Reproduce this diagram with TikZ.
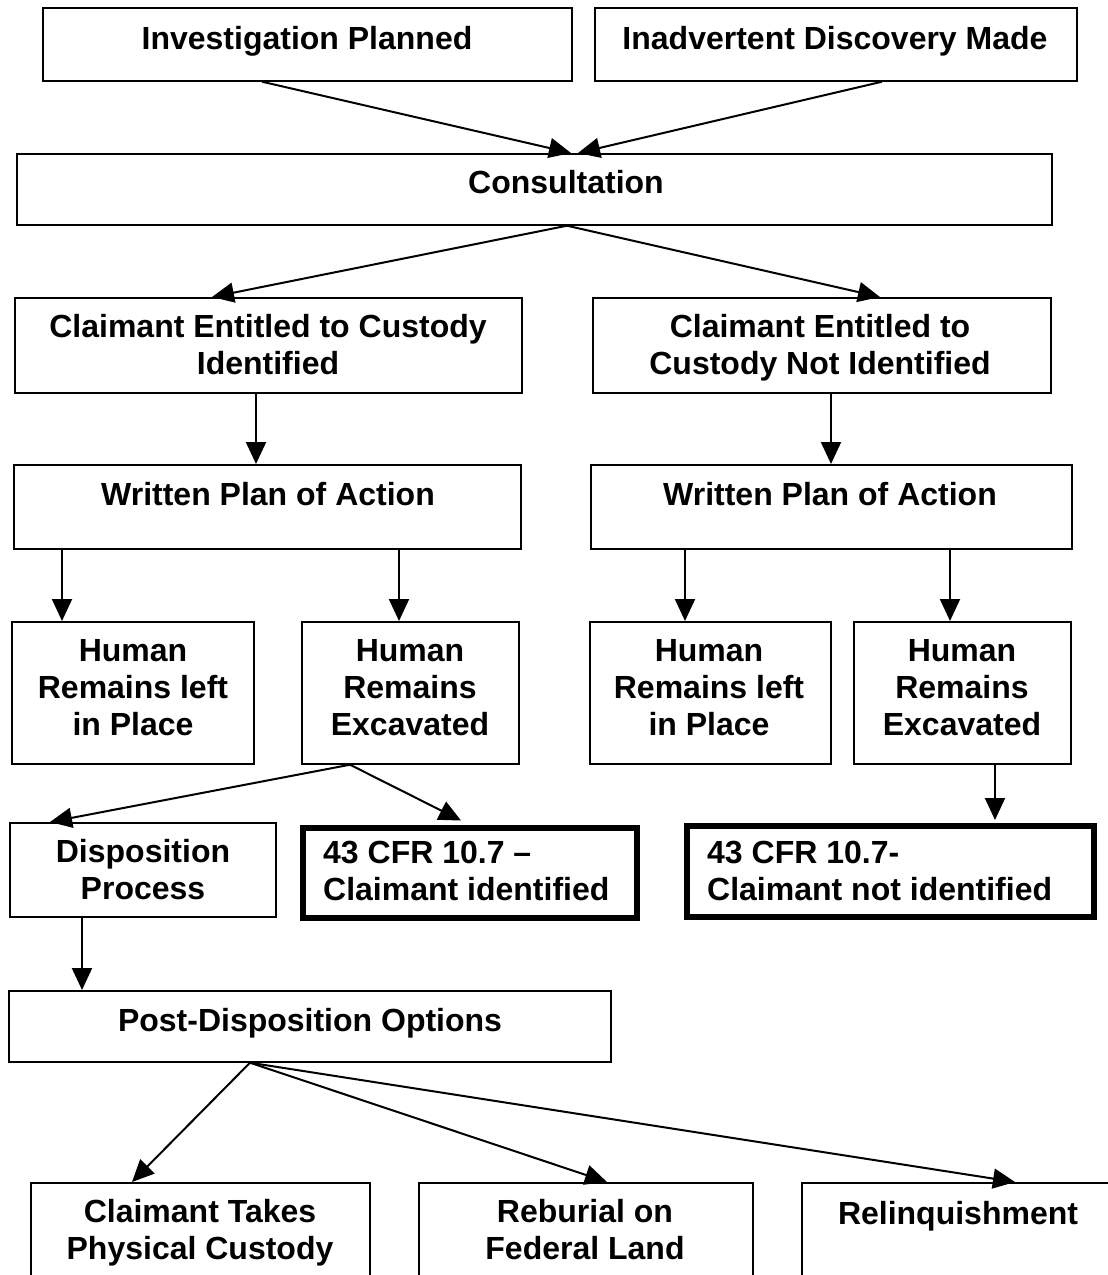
\documentclass[tikz,border=0pt]{standalone}
\usepackage{fontspec}
\setmainfont{Liberation Sans}
\usetikzlibrary{arrows.meta,calc}
\begin{document}
\begin{tikzpicture}[x=1pt,y=-1pt,
  box/.style={draw, line width=1.7pt, inner sep=0pt, anchor=north west},
  thickbox/.style={box, line width=6pt},
  txt/.style={font=\fontsize{32}{37}\selectfont\bfseries, inner sep=0pt, anchor=base},
  ltxt/.style={txt, anchor=base west},
  arr/.style={line width=2pt, -{Triangle[length=22pt,width=20pt]}}]
\useasboundingbox (0,0) rectangle (1108,1275);
\clip (0,0) rectangle (1108,1275);
% boxes
\node[box, minimum width=529pt, minimum height=73pt] (ip)  at (42,7) {};
\node[box, minimum width=482pt, minimum height=73pt] (idm) at (594,7) {};
\node[box, minimum width=1035pt, minimum height=71pt] (con) at (16,153) {};
\node[box, minimum width=507pt, minimum height=95pt] (ceci) at (14,297) {};
\node[box, minimum width=458pt, minimum height=95pt] (cecn) at (592,297) {};
\node[box, minimum width=507pt, minimum height=84pt] (wpl) at (13,464) {};
\node[box, minimum width=481pt, minimum height=84pt] (wpr) at (590,464) {};
\node[box, minimum width=242pt, minimum height=142pt] (hll) at (11,621) {};
\node[box, minimum width=217pt, minimum height=142pt] (hel) at (301,621) {};
\node[box, minimum width=241pt, minimum height=142pt] (hlr) at (589,621) {};
\node[box, minimum width=217pt, minimum height=142pt] (her) at (853,621) {};
\node[box, minimum width=266pt, minimum height=94pt] (dp) at (9,822) {};
\node[thickbox, minimum width=334pt, minimum height=90pt] (cfra) at (300,825) {};
\node[thickbox, minimum width=407pt, minimum height=91pt] (cfrb) at (684,823) {};
\node[box, minimum width=602pt, minimum height=71pt] (pdo) at (8,990) {};
\node[box, minimum width=339pt, minimum height=130pt] (ctp) at (30,1182) {};
\node[box, minimum width=334pt, minimum height=130pt] (rfl) at (418,1182) {};
\node[box, minimum width=330pt, minimum height=130pt] (rel) at (801,1182) {};
% texts
\node[txt] (ipt) at (307,49) {Investigation Planned};
\node[txt] (idmt) at (835,49) {Inadvertent Discovery Made};
\node[txt] (cont) at (566,193) {Consultation};
\node[txt] (cecit) at (268,337) {\begin{tabular}[t]{@{}c@{}}Claimant Entitled to Custody\\Identified\end{tabular}};
\node[txt] (cecnt) at (820,337) {\begin{tabular}[t]{@{}c@{}}Claimant Entitled to\\Custody Not Identified\end{tabular}};
\node[txt] (wplt) at (268,505) {Written Plan of Action};
\node[txt] (wprt) at (830,505) {Written Plan of Action};
\node[txt] (hllt) at (133,661) {\begin{tabular}[t]{@{}c@{}}Human\\Remains left\\in Place\end{tabular}};
\node[txt] (helt) at (410,661) {\begin{tabular}[t]{@{}c@{}}Human\\Remains\\Excavated\end{tabular}};
\node[txt] (hlrt) at (709,661) {\begin{tabular}[t]{@{}c@{}}Human\\Remains left\\in Place\end{tabular}};
\node[txt] (hert) at (962,661) {\begin{tabular}[t]{@{}c@{}}Human\\Remains\\Excavated\end{tabular}};
\node[txt] (dpt) at (143,862) {\begin{tabular}[t]{@{}c@{}}Disposition\\Process\end{tabular}};
\node[ltxt] (cfrat) at (323,863) {\begin{tabular}[t]{@{}l@{}}43 CFR 10.7 –\\Claimant identified\end{tabular}};
\node[ltxt] (cfrbt) at (707,863) {\begin{tabular}[t]{@{}l@{}}43 CFR 10.7-\\Claimant not identified\end{tabular}};
\node[txt] (pdot) at (310,1031) {Post-Disposition Options};
\node[txt] (ctpt) at (200,1222) {\begin{tabular}[t]{@{}c@{}}Claimant Takes\\Physical Custody\end{tabular}};
\node[txt] (rflt) at (585,1222) {\begin{tabular}[t]{@{}c@{}}Reburial on\\Federal Land\end{tabular}};
\node[txt] (relt) at (958,1224) {Relinquishment};
% connectors
\draw[arr] (262,0 |- ip.south) -- (571,0 |- con.north);
\draw[arr] (882,0 |- idm.south) -- (578,0 |- con.north);
\draw[arr] (567,0 |- con.south) -- (212,0 |- ceci.north);
\draw[arr] (567,0 |- con.south) -- (880,0 |- cecn.north);
\draw[arr] (256,0 |- ceci.south) -- (256,0 |- wpl.north);
\draw[arr] (831,0 |- cecn.south) -- (831,0 |- wpr.north);
\draw[arr] (62,0 |- wpl.south) -- (62,0 |- hll.north);
\draw[arr] (399,0 |- wpl.south) -- (399,0 |- hel.north);
\draw[arr] (685,0 |- wpr.south) -- (685,0 |- hlr.north);
\draw[arr] (950,0 |- wpr.south) -- (950,0 |- her.north);
\draw[arr] (350,0 |- hel.south) -- (50,0 |- dp.north);
\draw[arr, shorten >=10pt] (350,0 |- hel.south) -- (470,0 |- cfra.north);
\draw[arr, shorten >=3pt] (995,0 |- her.south) -- (995,0 |- cfrb.north);
\draw[arr] (82,0 |- dp.south) -- (82,0 |- pdo.north);
\draw[arr] (250,0 |- pdo.south) -- (132,0 |- ctp.north);
\draw[arr] (250,0 |- pdo.south) -- (607,0 |- rfl.north);
\draw[arr] (250,0 |- pdo.south) -- (1015,0 |- rel.north);
\end{tikzpicture}
\end{document}
